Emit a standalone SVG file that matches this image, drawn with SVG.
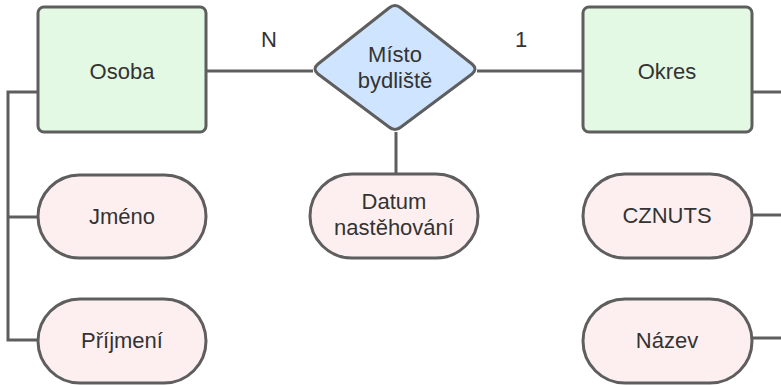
<svg xmlns="http://www.w3.org/2000/svg" width="781" height="385" viewBox="0 0 781 385">
<style>
.ent{fill:#e3f9e3;stroke:#5e5e5e;stroke-width:3}
.att{fill:#fdefef;stroke:#5e5e5e;stroke-width:3}
.rel{fill:#cfe4ff;stroke:#5e5e5e;stroke-width:3;stroke-linejoin:round}
.ln{fill:none;stroke:#5e5e5e;stroke-width:3}
text{font-family:"Liberation Sans",Arial,sans-serif;font-size:22px;fill:#333;text-anchor:middle}
</style>
<rect width="781" height="385" fill="#fff"/>
<g id="connectors">
<line class="ln" x1="206" y1="71" x2="313" y2="71"/>
<line class="ln" x1="477" y1="71" x2="583" y2="71"/>
<line class="ln" x1="396" y1="132" x2="396" y2="174"/>
<polyline class="ln" points="38,92 8,92 8,340 38,340"/>
<line class="ln" x1="8" y1="217" x2="38" y2="217"/>
<line class="ln" x1="752" y1="92" x2="781" y2="92"/>
<line class="ln" x1="752" y1="215" x2="781" y2="215"/>
<line class="ln" x1="752" y1="338" x2="781" y2="338"/>
<text x="269" y="47">N</text>
<text x="521" y="47">1</text>
</g>
<g id="osoba"><rect class="ent" x="38" y="7" width="168" height="125" rx="6"/><text x="122" y="79">Osoba</text></g>
<g id="misto"><path class="rel" d="M389,8 Q395,3 401,8 L472,64 Q478,69 472,74 L401,127 Q395,132 389,127 L318,74 Q312,69 318,64 Z"/><text x="395" y="62">Místo</text><text x="395" y="88">bydliště</text></g>
<g id="okres"><rect class="ent" x="583" y="7" width="169" height="125" rx="6"/><text x="667" y="79">Okres</text></g>
<g id="datum"><rect class="att" x="310" y="174" width="168" height="84" rx="42"/><text x="394" y="209">Datum</text><text x="394" y="235">nastěhování</text></g>
<g id="jmeno"><rect class="att" x="38" y="175" width="168" height="83" rx="41.5"/><text x="122" y="224">Jméno</text></g>
<g id="prijmeni"><rect class="att" x="38" y="299" width="168" height="84" rx="42"/><text x="122" y="348">Příjmení</text></g>
<g id="cznuts"><rect class="att" x="583" y="174" width="169" height="84" rx="42"/><text x="667" y="223">CZNUTS</text></g>
<g id="nazev"><rect class="att" x="583" y="299" width="169" height="84" rx="42"/><text x="667" y="348">Název</text></g>
</svg>
